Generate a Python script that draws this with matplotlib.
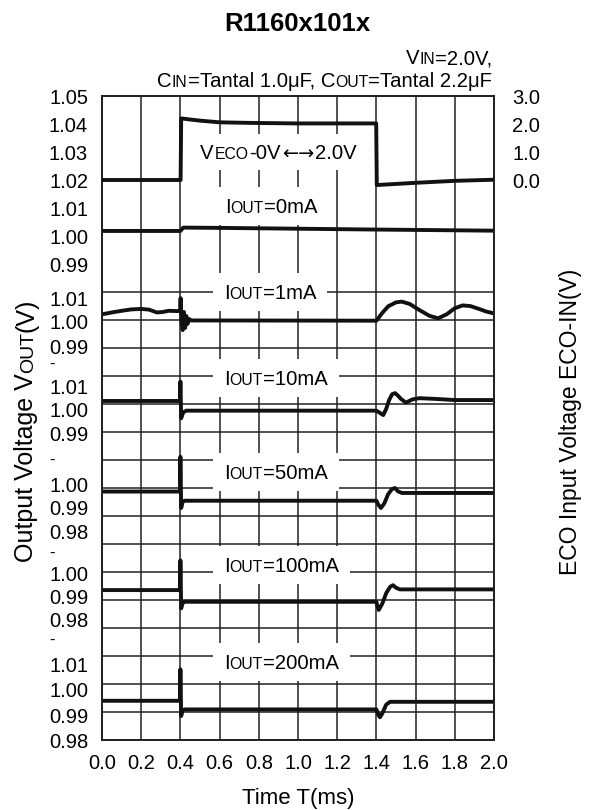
import numpy as np
import matplotlib
matplotlib.use("Agg")
import matplotlib.pyplot as plt
from matplotlib.font_manager import FontProperties
from matplotlib.transforms import IdentityTransform, blended_transform_factory
from matplotlib.patches import Rectangle

FAM = ["Liberation Sans", "DejaVu Sans"]
ARROW_FAM = ["DejaVu Sans"]
plt.rcParams["font.family"] = FAM

# ---------------- data ----------------
chart_title = "R1160x101x"
time_ticks = [0.0, 0.2, 0.4, 0.6, 0.8, 1.0, 1.2, 1.4, 1.6, 1.8, 2.0]
time_tick_labels = ["0.0", "0.2", "0.4", "0.6", "0.8", "1.0", "1.2", "1.4", "1.6", "1.8", "2.0"]
eco_ticks = [3.0, 2.0, 1.0, 0.0]
eco_tick_labels = ["3.0", "2.0", "1.0", "0.0"]

# ECO input voltage (right axis, V)
veco_t = [0.0, 0.401, 0.404, 0.45, 0.5, 0.6, 0.75, 1.0, 1.2, 1.399, 1.402, 1.6, 1.8, 2.0]
veco_v = [0.0, 0.0, 2.20, 2.16, 2.12, 2.06, 2.04, 2.02, 2.02, 2.02, -0.18, -0.10, -0.03, 0.01]

iout_names = ["0mA", "1mA", "10mA", "50mA", "100mA", "200mA"]

vout_tick_values = [
    [1.05, 1.04, 1.03, 1.02, 1.01, 1.00, 0.99],
    [1.01, 1.00, 0.99],
    [1.01, 1.00, 0.99],
    [1.00, 0.99, 0.98],
    [1.00, 0.99, 0.98],
    [1.01, 1.00, 0.99, 0.98],
]

iout0_t = [0.0, 0.400, 0.415, 0.6, 1.0, 1.4, 2.0]
iout0_v = [1.0018, 1.0018, 1.0030, 1.0029, 1.0026, 1.0023, 1.0019]

iout1_t = [0.0, 0.05, 0.1, 0.15, 0.2, 0.24, 0.28, 0.31, 0.34, 0.38, 0.398, 0.401, 0.406,
           0.412, 0.418, 0.424, 0.430, 0.436, 0.445, 0.455, 1.40, 1.43, 1.46, 1.50, 1.53,
           1.57, 1.62, 1.67, 1.715, 1.76, 1.80, 1.84, 1.88, 1.92, 1.96, 2.0]
iout1_v = [1.0034, 1.0042, 1.0049, 1.0055, 1.0057, 1.0054, 1.0042, 1.0044, 1.0049, 1.0048,
           1.0048, 1.0103, 1.0001, 0.9967, 1.0044, 0.9976, 1.0027, 0.9993, 1.0014, 1.0008,
           1.0007, 1.0040, 1.0068, 1.0085, 1.0088, 1.0078, 1.0052, 1.0028, 1.0017, 1.0035,
           1.0060, 1.0072, 1.0069, 1.0058, 1.0046, 1.0038]

iout10_t = [0.0, 0.398, 0.400, 0.404, 0.408, 0.415, 0.43, 1.40, 1.435, 1.45, 1.465, 1.48,
            1.495, 1.51, 1.525, 1.55, 1.585, 1.62, 1.7, 1.8, 2.0]
iout10_v = [1.0039, 1.0039, 1.0123, 0.9964, 0.9975, 0.9990, 0.9997, 0.9997, 0.9978, 1.0005,
            1.0043, 1.0068, 1.0073, 1.0062, 1.0048, 1.0032, 1.0046, 1.0051, 1.0048, 1.0043,
            1.0043]

iout50_t = [0.0, 0.398, 0.400, 0.404, 0.41, 0.42, 1.40, 1.41, 1.423, 1.44, 1.46, 1.48,
            1.495, 1.51, 1.53, 2.0]
iout50_v = [0.9971, 0.9971, 1.0119, 0.9901, 0.9925, 0.9932, 0.9932, 0.9915, 0.9901, 0.9920,
            0.9960, 0.9982, 0.9986, 0.9972, 0.9965, 0.9965]

iout100_t = [0.0, 0.398, 0.400, 0.404, 0.41, 0.42, 1.40, 1.405, 1.412, 1.43, 1.45, 1.47,
             1.485, 1.50, 1.52, 2.0]
iout100_v = [0.9928, 0.9928, 1.0055, 0.9850, 0.9870, 0.9878, 0.9878, 0.9860, 0.9843, 0.9870,
             0.9915, 0.9942, 0.9949, 0.9938, 0.9931, 0.9931]

iout200_t = [0.0, 0.398, 0.400, 0.404, 0.41, 0.42, 1.40, 1.41, 1.418, 1.43, 1.45, 1.47, 2.0]
iout200_v = [0.9955, 0.9955, 1.0079, 0.9895, 0.9915, 0.9921, 0.9921, 0.9900, 0.9890, 0.9905,
             0.9940, 0.9951, 0.9951]

traces_t = [iout0_t, iout1_t, iout10_t, iout50_t, iout100_t, iout200_t]
traces_v = [iout0_v, iout1_v, iout10_v, iout50_v, iout100_v, iout200_v]

# ---------------- layout ----------------
W, H, DPI = 592, 810, 100
AX_L, AX_R, AX_T, AX_B = 102, 494, 96, 740
NROWS = 23
tick_rows = [[0, 1, 2, 3, 4, 5, 6], [7.25, 8.07, 8.93], [10.39, 11.21, 12.04],
             [13.89, 14.71, 15.57], [17.04, 17.89, 18.71], [20.29, 21.18, 22.11, 23.0]]
dash_rows = [9.57, 13.0, 16.32, 19.43]
label_anchor = [(0.628, 3.93), (0.622, 7.0), (0.622, 10.07), (0.622, 13.43),
                (0.622, 16.75), (0.622, 20.21)]
veco_anchor = (0.50, 2.0)

FS_TICK = 14.5
FS_ANN = 14.6
SMALL = 0.78
FS_YL = 18
FS_YR = 16.5
FS_TITLE = 18.5
GAP = 0.0
LINE_C = "#111111"
GRID_C = "#222222"

fig = plt.figure(figsize=(W / DPI, H / DPI), dpi=DPI)
fig.patch.set_facecolor("white")
ax = fig.add_axes([AX_L / W, (H - AX_B) / H, (AX_R - AX_L) / W, (AX_B - AX_T) / H])
ax.set_xlim(0, 2.0)
ax.set_ylim(NROWS, 0)

ax.set_xticks(time_ticks)
ax.set_xticklabels(time_tick_labels)
ax.set_yticks(np.arange(0, NROWS + 1), minor=True)
all_rows = [r for rows in tick_rows for r in rows]
all_labels = ["%.2f" % v for vals in vout_tick_values for v in vals]
ax.set_yticks(all_rows)
ax.set_yticklabels(all_labels)
ax.tick_params(axis="both", which="both", length=0, labelsize=FS_TICK)
ax.tick_params(axis="x", pad=10)
ax.tick_params(axis="y", pad=10)
ax.xaxis.grid(True, which="major", color=GRID_C, linewidth=1.1)
ax.yaxis.grid(True, which="minor", color=GRID_C, linewidth=1.1)
ax.yaxis.grid(False, which="major")
for sp in ax.spines.values():
    sp.set_linewidth(1.3)
    sp.set_color(GRID_C)

trans_dash = blended_transform_factory(ax.transAxes, ax.transData)
for r in dash_rows:
    ax.text((49 - AX_L) / (AX_R - AX_L), r, "-", ha="left", va="center",
            fontsize=12, transform=trans_dash, clip_on=False)

# map voltages to row units using each section's tick labels
for vals, rows, tt, vv in zip(vout_tick_values, tick_rows, traces_t, traces_v):
    fit = np.polyfit(vals, rows, 1)
    ax.plot(tt, np.polyval(fit, np.asarray(vv)), color=LINE_C, linewidth=2.8,
            zorder=3, solid_joinstyle="round")

ax2 = ax.twinx()
ax2.set_ylim(3.0 - NROWS, 3.0)
ax2.set_yticks(eco_ticks)
ax2.set_yticklabels(eco_tick_labels)
ax2.tick_params(axis="y", length=0, labelsize=FS_TICK, pad=13)
for sp in ax2.spines.values():
    sp.set_linewidth(1.3)
    sp.set_color(GRID_C)
ax2.plot(veco_t, veco_v, color=LINE_C, linewidth=2.8, zorder=3)

# ---------------- rich text helper ----------------
fig.canvas.draw()
renderer = fig.canvas.get_renderer()


def text_w(s, size, fam=None, weight="normal"):
    fp = FontProperties(family=fam or FAM, size=size, weight=weight)
    w, h, d = renderer.get_text_width_height_descent(s, fp, ismath=False)
    return w


def rich(x, y, pieces, ha="left", rotation=0, gap=GAP, zorder=6):
    """x, y: display pixels of the baseline anchor. pieces: (text, size[, family])."""
    pieces = [p if len(p) == 3 else (p[0], p[1], None) for p in pieces]
    widths = [text_w(s, sz, fm) for s, sz, fm in pieces]
    total = sum(widths) + gap * (len(pieces) - 1)
    off = {"left": 0.0, "center": -total / 2, "right": -total}[ha]
    pos = off
    for (s, sz, fm), w in zip(pieces, widths):
        if rotation == 0:
            px, py = x + pos, y
        else:
            px, py = x, y + pos
        fig.text(px, py, s, fontsize=sz, family=fm or FAM, ha="left", va="baseline",
                 rotation=rotation, rotation_mode="anchor", transform=IdentityTransform(),
                 zorder=zorder)
        pos += w + gap
    return x + off, total


def px2pt(p):
    return p * DPI / 72.0


def boxed_label(anchor, pieces, padx=11, pady=11.5, gap=GAP):
    xd, yd = ax.transData.transform(anchor)
    cap = 0.716 * px2pt(FS_ANN)
    base = yd - cap / 2
    x0, total = rich(xd, base, pieces, gap=gap)
    rect = Rectangle((x0 - padx, base - pady), total + 2 * padx, cap + 2 * pady,
                     transform=IdentityTransform(), facecolor="white", edgecolor="none",
                     zorder=2)
    ax.add_artist(rect)


small = FS_ANN * SMALL
for name, anc in zip(iout_names, label_anchor):
    boxed_label(anc, [("I", FS_ANN), ("OUT", small), ("=" + name, FS_ANN)])

boxed_label(veco_anchor,
            [("V", FS_ANN), ("ECO", small), ("-0V", FS_ANN),
             ("\u2190\u2192", FS_ANN * 0.95, ARROW_FAM), ("2.0V", FS_ANN)],
            padx=9, pady=11, gap=1.0)

# title and conditions
cap_t = 0.716 * px2pt(FS_TITLE)
fig.text(297, H - 22 - cap_t / 2, chart_title, fontsize=FS_TITLE, fontweight="bold",
         ha="center", va="baseline", transform=IdentityTransform())
cap_a = 0.716 * px2pt(FS_ANN)
rich(492, H - 57 - cap_a / 2, [("V", FS_ANN), ("IN", small), ("=2.0V,", FS_ANN)], ha="right")
rich(492, H - 80 - cap_a / 2,
     [("C", FS_ANN), ("IN", small), ("=Tantal 1.0\u03bcF, C", FS_ANN), ("OUT", small),
      ("=Tantal 2.2\u03bcF", FS_ANN)], ha="right")

# axis titles
cap_x = 0.716 * px2pt(16)
fig.text(298, H - 796 - cap_x / 2, "Time T(ms)", fontsize=16, ha="center", va="baseline",
         transform=IdentityTransform())

pieces_y = [("Output Voltage V", FS_YL), ("OUT", FS_YL * SMALL), ("(V)", FS_YL)]
tot = sum(text_w(s, sz) for s, sz in pieces_y) + GAP * 2
rich(33, (H - 430) - tot / 2, pieces_y, rotation=90)

fig.text(571, H - 422, "ECO Input Voltage ECO-IN(V)", fontsize=FS_YR, rotation=90,
         ha="center", va="center", transform=IdentityTransform())

fig.savefig("out.png", dpi=DPI, facecolor="white")
